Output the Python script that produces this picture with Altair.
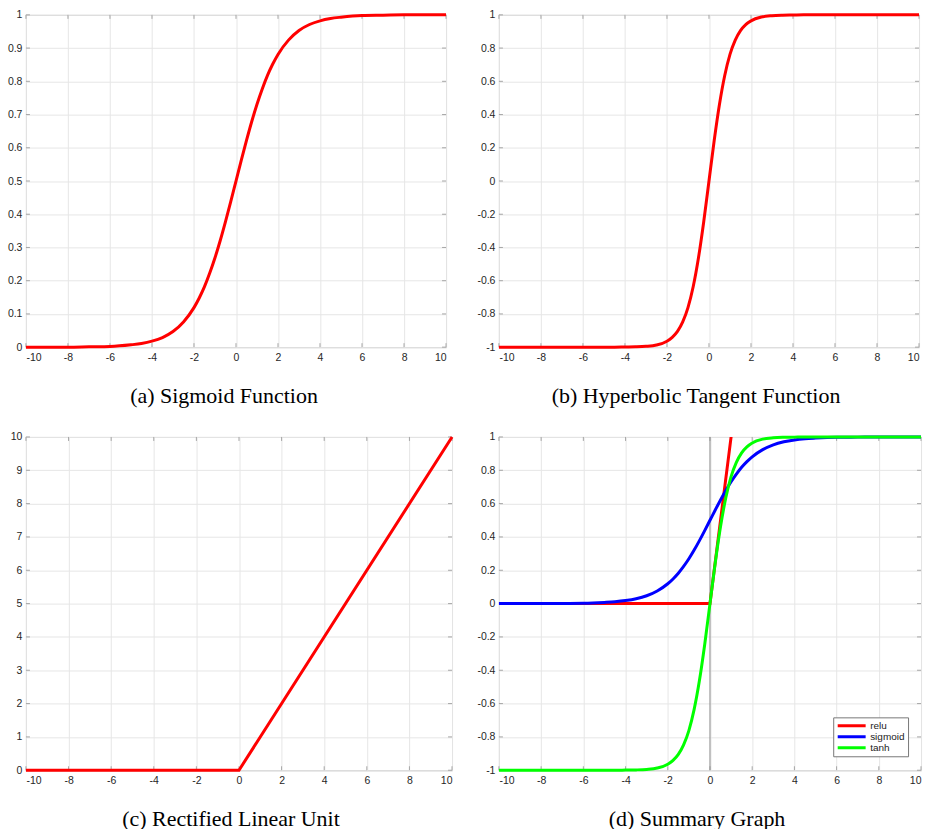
import altair as alt
import pandas as pd

# ---------------- data ----------------
x_pts = [-10, -9, -8, -7, -6, -5, -4.5, -4, -3.5, -3, -2.5, -2, -1.75, -1.5, -1.25,
         -1, -0.75, -0.5, -0.25, 0, 0.25, 0.5, 0.75, 1, 1.25, 1.5, 1.75, 2, 2.5,
         3, 3.5, 4, 4.5, 5, 6, 7, 8, 9, 10]
sigmoid_y = [0.000, 0.000, 0.000, 0.001, 0.002, 0.007, 0.011, 0.018, 0.029, 0.047,
             0.076, 0.119, 0.148, 0.182, 0.223, 0.269, 0.321, 0.378, 0.438, 0.500,
             0.562, 0.622, 0.679, 0.731, 0.777, 0.818, 0.852, 0.881, 0.924, 0.953,
             0.971, 0.982, 0.989, 0.993, 0.998, 0.999, 1.000, 1.000, 1.000]
tanh_y = [-1.000, -1.000, -1.000, -1.000, -1.000, -1.000, -1.000, -0.999, -0.998, -0.995,
          -0.987, -0.964, -0.941, -0.905, -0.848, -0.762, -0.635, -0.462, -0.245, 0.000,
          0.245, 0.462, 0.635, 0.762, 0.848, 0.905, 0.941, 0.964, 0.987, 0.995,
          0.998, 0.999, 1.000, 1.000, 1.000, 1.000, 1.000, 1.000, 1.000]
relu_x = [-10, 0, 10]
relu_y = [0, 0, 10]

x_ticks = [-10, -8, -6, -4, -2, 0, 2, 4, 6, 8, 10]
y_ticks_a = [0, 0.1, 0.2, 0.3, 0.4, 0.5, 0.6, 0.7, 0.8, 0.9, 1]
y_ticks_b = [-1, -0.8, -0.6, -0.4, -0.2, 0, 0.2, 0.4, 0.6, 0.8, 1]
y_ticks_c = [0, 1, 2, 3, 4, 5, 6, 7, 8, 9, 10]
y_ticks_d = [-1, -0.8, -0.6, -0.4, -0.2, 0, 0.2, 0.4, 0.6, 0.8, 1]
zero_line = [0]

fn_names = ["relu", "sigmoid", "tanh"]
fn_colors = ["#ff0000", "#0000ff", "#00ff00"]

captions = ["(a) Sigmoid Function", "(b) Hyperbolic Tangent Function",
            "(c) Rectified Linear Unit", "(d) Summary Graph"]

# ---------------- style ----------------
FRAME = "#a6a6a6"
TICK_LEN = 4
LW = 3
LABEL_EXPR = "'' + datum.value"

sig_df = pd.DataFrame({"x": x_pts, "y": sigmoid_y, "fn": "sigmoid"})
tanh_df = pd.DataFrame({"x": x_pts, "y": tanh_y, "fn": "tanh"})
relu_df = pd.DataFrame({"x": relu_x, "y": relu_y, "fn": "relu"})


def make_panel(line_builder, y_domain, y_ticks, w, h, caption, cap_dx, y_extent=None):
    xs = alt.Scale(domain=[-10, 10], nice=False, zero=False)
    ys = alt.Scale(domain=y_domain, nice=False, zero=False)
    xax = alt.Axis(values=x_ticks, grid=True, labelExpr=LABEL_EXPR, title=None,
                   tickSize=0, domain=False, labelPadding=5)
    ykw = {}
    if y_extent is not None:
        ykw = {"minExtent": y_extent, "maxExtent": y_extent}
    yax = alt.Axis(values=y_ticks, grid=True, labelExpr=LABEL_EXPR, title=None,
                   tickSize=0, domain=False, labelPadding=4, **ykw)

    xt = pd.DataFrame({"t": x_ticks})
    yt = pd.DataFrame({"t": y_ticks})
    X = lambda f: alt.X(f, scale=xs, axis=xax)
    Y = lambda f: alt.Y(f, scale=ys, axis=yax)

    ticks = [
        alt.Chart(xt).mark_rule(color=FRAME, strokeWidth=1).encode(
            x=X("t:Q"), y=alt.value(h), y2=alt.value(h - TICK_LEN)),
        alt.Chart(xt).mark_rule(color=FRAME, strokeWidth=1).encode(
            x=X("t:Q"), y=alt.value(0), y2=alt.value(TICK_LEN)),
        alt.Chart(yt).mark_rule(color=FRAME, strokeWidth=1).encode(
            y=Y("t:Q"), x=alt.value(0), x2=alt.value(TICK_LEN)),
        alt.Chart(yt).mark_rule(color=FRAME, strokeWidth=1).encode(
            y=Y("t:Q"), x=alt.value(w), x2=alt.value(w - TICK_LEN)),
    ]
    lines = line_builder(X, Y)
    return alt.layer(*ticks, *lines).properties(
        width=w, height=h,
        title=alt.TitleParams(text=caption, orient="bottom", anchor="middle",
                              frame="group", dx=cap_dx,
                              font="Liberation Serif", fontSize=22,
                              fontWeight="normal", color="#000000", offset=23),
    )


def build_a(X, Y):
    return [alt.Chart(sig_df).mark_line(color="#ff0000", strokeWidth=LW,
                                        interpolate="monotone").encode(x=X("x:Q"), y=Y("y:Q"))]


def build_b(X, Y):
    return [alt.Chart(tanh_df).mark_line(color="#ff0000", strokeWidth=LW,
                                         interpolate="monotone").encode(x=X("x:Q"), y=Y("y:Q"))]


def build_c(X, Y):
    return [alt.Chart(relu_df).mark_line(color="#ff0000", strokeWidth=LW).encode(
        x=X("x:Q"), y=Y("y:Q"))]


def build_d(X, Y):
    color = alt.Color(
        "fn:N",
        scale=alt.Scale(domain=fn_names, range=fn_colors),
        legend=alt.Legend(
            title=None, orient="none", legendX=809, legendY=704,
            direction="vertical", symbolType="stroke", symbolStrokeWidth=3,
            symbolSize=784, clipHeight=11, rowPadding=0, padding=3,
            labelFont="Liberation Sans", labelFontSize=10, labelColor="#222222",
            labelOffset=3, strokeColor="#777777", fillColor="#ffffff",
            cornerRadius=0,
        ),
    )
    vline = alt.Chart(pd.DataFrame({"v": zero_line})).mark_rule(
        color="#8a8a8a", strokeWidth=1).encode(x=X("v:Q"))
    relu = alt.Chart(relu_df).mark_line(strokeWidth=LW, clip=True).encode(
        x=X("x:Q"), y=Y("y:Q"), color=color)
    sig = alt.Chart(sig_df).mark_line(strokeWidth=LW, interpolate="monotone").encode(
        x=X("x:Q"), y=Y("y:Q"), color=color)
    tnh = alt.Chart(tanh_df).mark_line(strokeWidth=LW, interpolate="monotone").encode(
        x=X("x:Q"), y=Y("y:Q"), color=color)
    return [vline, relu, sig, tnh]


pa = make_panel(build_a, [0, 1], y_ticks_a, 421, 333, captions[0], -12, y_extent=25)
pb = make_panel(build_b, [-1, 1], y_ticks_b, 421, 333, captions[1], -13)
pc = make_panel(build_c, [0, 10], y_ticks_c, 427, 334, captions[2], -8, y_extent=25)
pd_ = make_panel(build_d, [-1, 1], y_ticks_d, 423, 334, captions[3], -13)

chart = alt.concat(
    pa, pb, pc, pd_, columns=2, bounds="flush", align="none",
    spacing={"row": 90, "column": 47},
).configure(
    padding={"left": 0, "top": 7, "right": 5, "bottom": 5},
    background="#ffffff",
).configure_view(
    stroke=FRAME, strokeWidth=1
).configure_axis(
    labelFont="Liberation Sans", labelFontSize=10.5, labelColor="#262626",
    gridColor="#e6e6e6", gridWidth=1,
)

chart.save("out.html", embed_options={"renderer": "svg", "actions": False})
